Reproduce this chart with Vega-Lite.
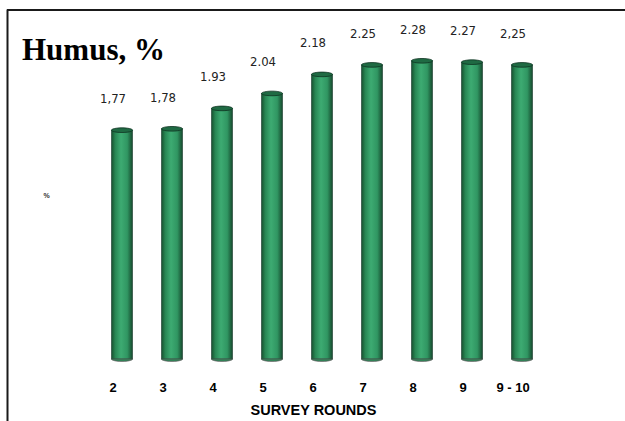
{
  "$schema": "https://vega.github.io/schema/vega-lite/v6.json",
  "width": 618,
  "height": 411,
  "autosize": {"type": "none"},
  "padding": {"left": 7, "top": 10, "right": 0, "bottom": 0},
  "background": "white",
  "config": {"view": {"stroke": null}},
  "title": {
    "text": "Humus, %",
    "anchor": "start",
    "frame": "group",
    "font": "Liberation Serif",
    "fontSize": 31,
    "fontWeight": "bold",
    "color": "black",
    "offset": -51,
    "dx": 15,
    "dy": 31,
    "baseline": "alphabetic"
  },
  "data": {
    "values": [
      {"round": "2", "humus": 1.77, "label": "1,77"},
      {"round": "3", "humus": 1.78, "label": "1,78"},
      {"round": "4", "humus": 1.93, "label": "1.93"},
      {"round": "5", "humus": 2.04, "label": "2.04"},
      {"round": "6", "humus": 2.18, "label": "2.18"},
      {"round": "7", "humus": 2.25, "label": "2.25"},
      {"round": "8", "humus": 2.28, "label": "2.28"},
      {"round": "9", "humus": 2.27, "label": "2.27"},
      {"round": "9 - 10", "humus": 2.25, "label": "2,25"}
    ]
  },
  "encoding": {
    "x": {
      "field": "round",
      "type": "nominal",
      "sort": null,
      "scale": {"range": [90, 540], "paddingInner": 0.58, "paddingOuter": 0.29},
      "axis": {
        "title": "SURVEY ROUNDS",
        "labelAngle": 0,
        "ticks": false,
        "domain": false,
        "grid": false,
        "offset": -41,
        "labelPadding": 1,
        "labelOffset": -9,
        "labelFont": "Liberation Sans",
        "labelFontSize": 13,
        "labelFontWeight": "bold",
        "labelColor": "black",
        "titleFont": "Liberation Sans",
        "titleFontSize": 14.5,
        "titleFontWeight": "bold",
        "titleColor": "black",
        "titleX": 306,
        "titleY": 23,
        "titleBaseline": "top"
      }
    },
    "y": {
      "field": "humus",
      "type": "quantitative",
      "scale": {"domain": [-0.3685, 2.6536], "nice": false, "zero": false},
      "axis": {
        "title": "%",
        "labels": false,
        "ticks": false,
        "domain": true,
        "domainColor": "#1a1a1a",
        "domainWidth": 2,
        "domainCap": "square",
        "grid": false,
        "titleAngle": 0,
        "titleX": 39,
        "titleY": 185,
        "titleFont": "Liberation Sans",
        "titleFontSize": 7,
        "titleFontWeight": "bold",
        "titleAlign": "center",
        "titleBaseline": "middle",
        "titleColor": "#333"
      }
    }
  },
  "layer": [
    {
      "mark": {"type": "rule", "color": "#1a1a1a", "strokeWidth": 2},
      "encoding": {
        "x": null,
        "y": {"datum": 2.6536}
      }
    },
    {
      "mark": {
        "type": "bar",
        "fill": {
          "gradient": "linear",
          "x1": 0, "x2": 1, "y1": 0, "y2": 0,
          "stops": [
            {"offset": 0, "color": "#17502f"},
            {"offset": 0.18, "color": "#288754"},
            {"offset": 0.45, "color": "#3dab72"},
            {"offset": 0.75, "color": "#309662"},
            {"offset": 1, "color": "#164a2e"}
          ]
        },
        "stroke": "#14392a",
        "strokeWidth": 0.6
      },
      "encoding": {
        "y2": {"datum": 0.087}
      }
    },
    {
      "mark": {
        "type": "point",
        "shape": "M -1 0 A 1 0.22 0 0 0 1 0 Z",
        "size": 441,
        "filled": true,
        "fill": "#2b8a58",
        "stroke": "#555555",
        "strokeWidth": 0.8,
        "opacity": 1
      },
      "encoding": {
        "y": {"datum": 0.087}
      }
    },
    {
      "mark": {
        "type": "point",
        "shape": "M -1 0 A 1 0.22 0 1 1 1 0 A 1 0.22 0 1 1 -1 0 Z",
        "size": 441,
        "filled": true,
        "fill": "#1f6a43",
        "stroke": "#0f3322",
        "strokeWidth": 0.8,
        "opacity": 1
      }
    },
    {
      "mark": {
        "type": "text",
        "dx": -9,
        "dy": -31,
        "font": "DejaVu Sans Condensed",
        "fontSize": 13,
        "fill": "#222222",
        "baseline": "middle"
      },
      "encoding": {
        "text": {"field": "label"}
      }
    }
  ]
}
